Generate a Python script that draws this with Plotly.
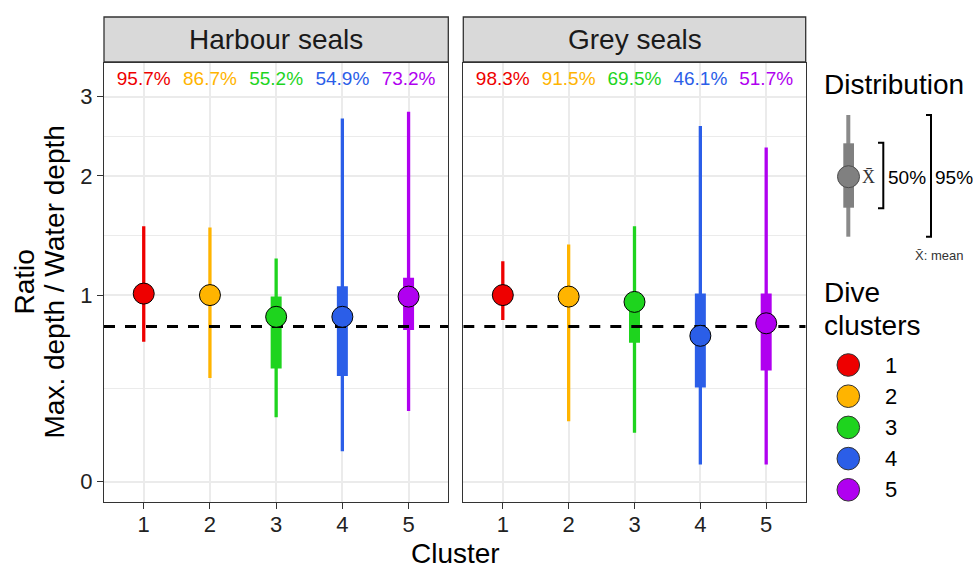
import numpy as np
import plotly.graph_objects as go

W, H = 973, 570

# ---------------- data ----------------
clusters = [1, 2, 3, 4, 5]
cluster_colors = ["#EE0000", "#FFB400", "#1ED41E", "#2B5EE8", "#B000F0"]
panel_names = ["Harbour seals", "Grey seals"]

hs_mean = [1.01, 1.00, 0.86, 0.86, 0.99]
hs_q25 = [0.95, 0.95, 0.56, 0.52, 0.78]
hs_q75 = [1.07, 1.05, 0.99, 1.06, 1.12]
hs_lo = [0.71, 0.51, 0.31, 0.145, 0.34]
hs_hi = [1.52, 1.51, 1.26, 2.69, 2.78]
hs_pct = ["95.7%", "86.7%", "55.2%", "54.9%", "73.2%"]

gs_mean = [1.00, 0.99, 0.955, 0.745, 0.82]
gs_q25 = [0.95, 0.94, 0.705, 0.46, 0.55]
gs_q75 = [1.05, 1.05, 1.00, 1.01, 1.01]
gs_lo = [0.84, 0.29, 0.233, 0.082, 0.082]
gs_hi = [1.24, 1.37, 1.52, 2.59, 2.32]
gs_pct = ["98.3%", "91.5%", "69.5%", "46.1%", "51.7%"]

ref_ratio = 0.8
pct_label_y = 3.25
y_ticks = [0, 1, 2, 3]

panels = [
    dict(mean=hs_mean, q25=hs_q25, q75=hs_q75, lo=hs_lo, hi=hs_hi, pct=hs_pct),
    dict(mean=gs_mean, q25=gs_q25, q75=gs_q75, lo=gs_lo, hi=gs_hi, pct=gs_pct),
]


def tf(v):
    return np.arcsinh(np.asarray(v, dtype=float))


def px(x):
    return x / W


def py(y):
    return 1 - y / H


FONT = "Liberation Sans, Arial, sans-serif"
fig = go.Figure()

axes = [("x", "y"), ("x2", "y2")]
for p, (ax, ay) in enumerate(axes):
    d = panels[p]
    # 95% ranges
    for i, c in enumerate(clusters):
        fig.add_trace(go.Scatter(
            x=[c, c], y=tf([d["lo"][i], d["hi"][i]]), mode="lines",
            line=dict(color=cluster_colors[i], width=3.3),
            xaxis=ax, yaxis=ay, showlegend=False, hoverinfo="skip"))
    # 50% ranges
    for i, c in enumerate(clusters):
        fig.add_trace(go.Scatter(
            x=[c, c], y=tf([d["q25"][i], d["q75"][i]]), mode="lines",
            line=dict(color=cluster_colors[i], width=11),
            xaxis=ax, yaxis=ay, showlegend=False, hoverinfo="skip"))
    # reference line
    fig.add_trace(go.Scatter(
        x=[0.4, 5.6], y=tf([ref_ratio, ref_ratio]), mode="lines",
        line=dict(color="black", width=3, dash="11px,10px"),
        xaxis=ax, yaxis=ay, showlegend=False, hoverinfo="skip"))
    # means
    fig.add_trace(go.Scatter(
        x=clusters, y=tf(d["mean"]), mode="markers",
        marker=dict(color=cluster_colors, size=21, line=dict(color="black", width=1)),
        xaxis=ax, yaxis=ay, showlegend=False, hoverinfo="skip"))
    # percentages
    fig.add_trace(go.Scatter(
        x=clusters, y=tf([pct_label_y] * len(clusters)), mode="text",
        text=d["pct"], textposition="middle center",
        textfont=dict(color=cluster_colors, size=19, family=FONT),
        xaxis=ax, yaxis=ay, showlegend=False, hoverinfo="skip"))

grid = "#EBEBEB"
line_col = "#333333"
xcommon = dict(range=[0.4, 5.6], tickvals=clusters, ticktext=[str(c) for c in clusters],
               showgrid=True, gridcolor=grid, gridwidth=2, zeroline=False,
               showline=True, mirror=True, linecolor=line_col, linewidth=1.3,
               ticks="outside", ticklen=6, tickwidth=1.3, tickcolor=line_col,
               ticklabelstandoff=-3,
               tickfont=dict(size=22, color="#222222", family=FONT), fixedrange=True)
ymin_t = tf([0])[0] - 0.094
ymax_t = 1.977
minor_vals = [(a + b) / 2 for a, b in zip(tf(y_ticks[:-1]), tf(y_ticks[1:]))]
ycommon = dict(range=[ymin_t, ymax_t], tickvals=list(tf(y_ticks)),
               ticktext=[str(t) for t in y_ticks],
               showgrid=True, gridcolor=grid, gridwidth=2, zeroline=False,
               showline=True, mirror=True, linecolor=line_col, linewidth=1.3,
               minor=dict(tickmode="array", tickvals=minor_vals, showgrid=True,
                          gridcolor=grid, gridwidth=1.2, ticks=""),
               tickfont=dict(size=22, color="#222222", family=FONT), fixedrange=True,
               domain=[py(501.7), py(63)])

fig.update_layout(
    width=W, height=H, margin=dict(l=0, r=0, t=0, b=0),
    paper_bgcolor="white", plot_bgcolor="white",
    font=dict(family=FONT, color="black"),
    xaxis=dict(xcommon, domain=[px(104), px(448.3)], anchor="y"),
    xaxis2=dict(xcommon, domain=[px(463.3), px(805.7)], anchor="y2"),
    yaxis=dict(ycommon, anchor="x", ticks="outside", ticklen=6, tickwidth=1.3,
               tickcolor=line_col),
    yaxis2=dict(ycommon, anchor="x2", showticklabels=False, ticks=""),
)

shapes = []
annotations = []

# strips
for (x0, x1), name in zip([(104, 448.3), (463.3, 805.7)], panel_names):
    shapes.append(dict(type="rect", xref="paper", yref="paper",
                       x0=px(x0), x1=px(x1), y0=py(62), y1=py(17),
                       fillcolor="#D9D9D9", line=dict(color=line_col, width=1.3)))
    annotations.append(dict(text=name, xref="paper", yref="paper",
                            x=px((x0 + x1) / 2), y=py(39.5), showarrow=False,
                            xanchor="center", yanchor="middle",
                            font=dict(size=28, color="#1A1A1A", family=FONT)))

# axis titles
annotations.append(dict(text="Cluster", xref="paper", yref="paper", x=px(455), y=py(553),
                        showarrow=False, xanchor="center", yanchor="middle",
                        font=dict(size=28, family=FONT)))
annotations.append(dict(text="Ratio", xref="paper", yref="paper", x=px(24), y=py(282.5),
                        showarrow=False, xanchor="center", yanchor="middle", textangle=-90,
                        font=dict(size=28, family=FONT)))
annotations.append(dict(text="Max. depth / Water depth", xref="paper", yref="paper",
                        x=px(54), y=py(282.5), showarrow=False, xanchor="center",
                        yanchor="middle", textangle=-90, font=dict(size=28, family=FONT)))

# Distribution legend
annotations.append(dict(text="Distribution", xref="paper", yref="paper", x=px(822), y=py(84),
                        showarrow=False, xanchor="left", yanchor="middle",
                        font=dict(size=28, family=FONT)))
gcol = "#808080"
shapes.append(dict(type="line", xref="paper", yref="paper", x0=px(848.3), x1=px(848.3),
                   y0=py(115), y1=py(236.7), line=dict(color="#8A8A8A", width=4)))
shapes.append(dict(type="rect", xref="paper", yref="paper", x0=px(843.3), x1=px(854),
                   y0=py(207.7), y1=py(143.3), fillcolor=gcol, line=dict(width=0)))
shapes.append(dict(type="circle", xref="paper", yref="paper", x0=px(837.5), x1=px(859.5),
                   y0=py(187.7), y1=py(165.7), fillcolor=gcol,
                   line=dict(color="#4D4D4D", width=1)))
annotations.append(dict(text="X\u0304", xref="paper", yref="paper", x=px(868), y=py(177),
                        showarrow=False, xanchor="center", yanchor="middle",
                        font=dict(size=18, family="Liberation Serif, serif", color="#333333")))


def bracket(xl, xr, yt, yb):
    return dict(type="path", xref="paper", yref="paper",
                path=f"M {px(xl)},{py(yt)} L {px(xr)},{py(yt)} L {px(xr)},{py(yb)} L {px(xl)},{py(yb)}",
                line=dict(color="black", width=2))


shapes.append(bracket(878, 883.3, 142.7, 208.3))
shapes.append(bracket(926, 931, 115, 236.7))
annotations.append(dict(text="50%", xref="paper", yref="paper", x=px(886), y=py(177),
                        showarrow=False, xanchor="left", yanchor="middle",
                        font=dict(size=19, family=FONT)))
annotations.append(dict(text="95%", xref="paper", yref="paper", x=px(933), y=py(177),
                        showarrow=False, xanchor="left", yanchor="middle",
                        font=dict(size=19, family=FONT)))
annotations.append(dict(text="X\u0304: mean", xref="paper", yref="paper", x=px(913), y=py(255),
                        showarrow=False, xanchor="left", yanchor="middle",
                        font=dict(size=13, family=FONT, color="#333333")))

# Dive clusters legend
annotations.append(dict(text="Dive", xref="paper", yref="paper", x=px(822), y=py(292),
                        showarrow=False, xanchor="left", yanchor="middle",
                        font=dict(size=28, family=FONT)))
annotations.append(dict(text="clusters", xref="paper", yref="paper", x=px(822), y=py(325),
                        showarrow=False, xanchor="left", yanchor="middle",
                        font=dict(size=28, family=FONT)))
leg_y0, leg_dy = 365, 31.2
for i, c in enumerate(clusters):
    yc = leg_y0 + i * leg_dy
    shapes.append(dict(type="circle", xref="paper", yref="paper",
                       x0=px(848.3 - 11.3), x1=px(848.3 + 11.3),
                       y0=py(yc + 11.3), y1=py(yc - 11.3),
                       fillcolor=cluster_colors[i], line=dict(color="#333333", width=1)))
    annotations.append(dict(text=str(c), xref="paper", yref="paper", x=px(883), y=py(yc),
                            showarrow=False, xanchor="left", yanchor="middle",
                            font=dict(size=22, family=FONT)))

fig.update_layout(shapes=shapes, annotations=annotations)
fig.write_html("out.html", config={"displayModeBar": False},
               post_script="document.body.style.margin='0px';document.body.style.overflow='hidden';")
